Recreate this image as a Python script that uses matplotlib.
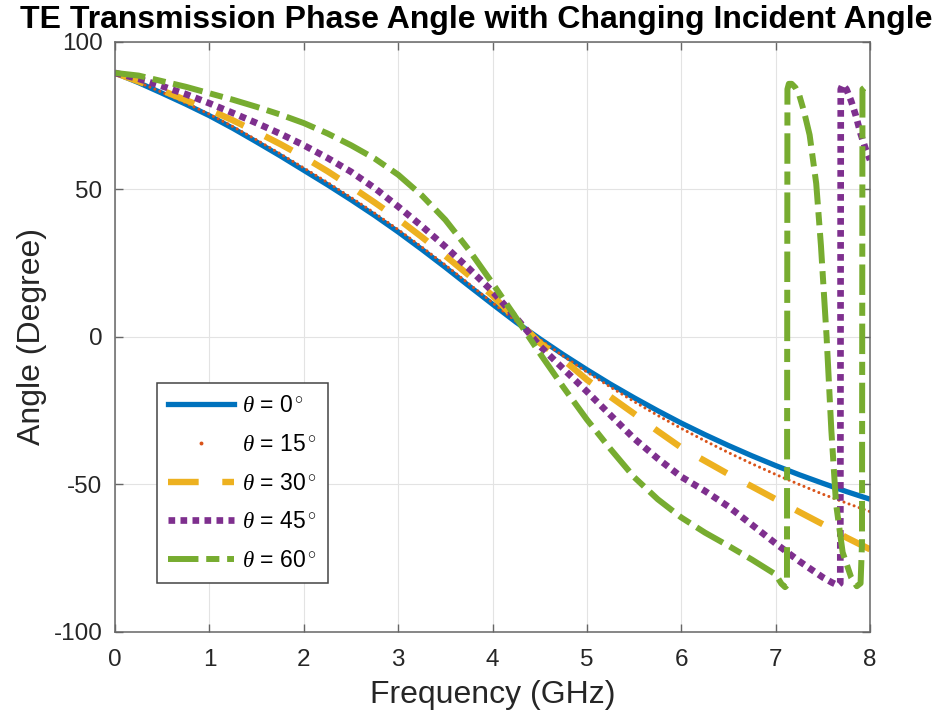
"""TE transmission phase angle vs frequency for several incident angles."""
import matplotlib
matplotlib.use('Agg')
import matplotlib.pyplot as plt
from matplotlib.lines import Line2D

plt.rcParams['font.family'] = ['Liberation Sans', 'DejaVu Sans']
plt.rcParams['mathtext.fontset'] = 'custom'
plt.rcParams['mathtext.it'] = 'Liberation Serif:italic'
plt.rcParams['mathtext.rm'] = 'Liberation Sans'
plt.rcParams['axes.unicode_minus'] = False

# frequency grid (GHz) shared by the smooth parts
freq = [0, 0.25, 0.5, 0.75, 1, 1.25, 1.5, 1.75, 2, 2.25, 2.5, 2.75, 3, 3.25,
        3.5, 3.75, 4, 4.25, 4.5, 4.75, 5, 5.25, 5.5, 5.75, 6, 6.25, 6.5,
        6.75, 7, 7.25, 7.5, 7.75, 8]

phase_0 = [89.5, 86.2, 82.6, 78.9, 75.0, 70.7, 66.1, 61.4, 56.5, 51.6, 46.5,
           41.2, 35.6, 29.7, 23.6, 17.3, 11.1, 5.0, -0.6, -6.0, -11.1, -16.0,
           -20.6, -25.0, -29.2, -33.1, -36.8, -40.3, -43.6, -46.7, -49.6,
           -52.4, -55.0]

phase_15 = [89.5, 86.3, 82.9, 79.3, 75.5, 71.3, 66.8, 62.1, 57.3, 52.4, 47.3,
            42.0, 36.4, 30.5, 24.4, 18.0, 11.6, 5.3, -0.8, -6.5, -11.9, -17.0,
            -21.9, -26.6, -31.0, -35.2, -39.2, -43.0, -46.6, -50.0, -53.3,
            -56.3, -59.2]

phase_30 = [89.5, 86.6, 83.5, 80.3, 77.0, 73.4, 69.5, 65.4, 61.0, 56.2, 51.0,
            45.6, 40.0, 33.9, 27.5, 20.9, 14.0, 6.0, -2.0, -7.7, -14.5, -20.3,
            -26.0, -31.9, -37.5, -42.0, -46.5, -50.7, -55.0, -59.3, -63.5,
            -68.0, -72.0]

# theta = 45 wraps from -90 to +90 near 7.7 GHz
freq_45 = [0, 0.25, 0.5, 0.75, 1, 1.25, 1.5, 1.75, 2, 2.25, 2.5, 2.75, 3,
           3.25, 3.5, 3.75, 4, 4.25, 4.5, 4.75, 5, 5.25, 5.5, 5.75, 6, 6.25,
           6.5, 6.75, 7, 7.25, 7.5, 7.6, 7.66, 7.685, 7.69, 7.71, 7.75, 7.8,
           7.85, 7.9, 7.95, 8]
phase_45 = [89.5, 87.5, 85.0, 82.3, 79.2, 75.9, 72.5, 68.9, 65.0, 60.7, 56.0,
            50.5, 44.2, 37.6, 30.6, 23.2, 15.4, 6.5, -3.0, -10.8, -18.5, -26.5,
            -34.4, -41.2, -47.4, -52.2, -57.5, -63.7, -70.0, -76.0, -81.5,
            -83.3, -84.2, -83.5, 84.0, 85.5, 84.0, 80.0, 75.0, 69.0, 64.0,
            60.0]

# theta = 60 wraps twice: near 7.12 GHz and 7.9 GHz
freq_60 = [0, 0.25, 0.5, 0.75, 1, 1.25, 1.5, 1.75, 2, 2.25, 2.5, 2.75, 3,
           3.25, 3.5, 3.75, 4, 4.25, 4.5, 4.75, 5, 5.25, 5.5, 5.75, 6, 6.25,
           6.5, 6.75, 7, 7.06, 7.1, 7.12, 7.125, 7.14, 7.17, 7.21, 7.25, 7.3,
           7.36, 7.43, 7.48, 7.54, 7.59, 7.64, 7.71, 7.8, 7.86, 7.9, 7.915,
           7.92, 7.96, 8]
phase_60 = [89.5, 88.6, 86.7, 84.8, 82.6, 80.4, 78.0, 75.4, 72.5, 69.0, 65.0,
            60.5, 55.0, 48.0, 39.7, 29.5, 18.2, 6.5, -5.5, -17.0, -28.0, -38.0,
            -47.5, -55.0, -61.2, -66.3, -70.8, -75.5, -80.5, -83.6, -84.8,
            -84.2, 84.0, 85.8, 85.8, 84.5, 82.0, 76.5, 68.5, 52.0, 31.0, 0.0,
            -31.5, -56.5, -73.0, -81.5, -84.5, -83.5, -70.0, 84.0, 85.0, 84.5]

labels = [r'$\theta$ = 0$^\circ$', r'$\theta$ = 15$^\circ$',
          r'$\theta$ = 30$^\circ$', r'$\theta$ = 45$^\circ$',
          r'$\theta$ = 60$^\circ$']

c_blue = '#0072BD'
c_red = '#D95319'
c_yellow = '#EDB120'
c_purple = '#7E2F8E'
c_green = '#77AC30'
axis_gray = '#666666'
text_gray = '#262626'

fig = plt.figure(figsize=(9.36, 7.22), dpi=100)
ax = fig.add_axes([0.1229, 0.1247, 0.8066, 0.8172])

ax.plot(freq, phase_0, color=c_blue, linewidth=3.8, solid_capstyle='butt')
ax.plot(freq, phase_15, color=c_red, linewidth=2.2, dashes=(0.01, 1.75),
        dash_capstyle='round')
ax.plot(freq, phase_30, color=c_yellow, linewidth=4.6, dashes=(4.8, 3.7))
ax.plot(freq_45, phase_45, color=c_purple, linewidth=4.8, dashes=(1.0, 0.8))
ax.plot(freq_60, phase_60, color=c_green, linewidth=4.3,
        dashes=(5.1, 1.3, 2.2, 1.3))

ax.set_xlim(0, 8)
ax.set_ylim(-100, 100)
ax.set_xticks(range(0, 9))
ax.set_yticks([-100, -50, 0, 50, 100])
ax.grid(True, color='#e3e3e3', linewidth=0.8)
ax.set_axisbelow(True)

for sp in ax.spines.values():
    sp.set_color(axis_gray)
    sp.set_linewidth(1.1)
ax.tick_params(direction='in', length=6, width=1.0, color=axis_gray,
               top=True, right=True, labelsize=17.5, labelcolor=text_gray)
ax.tick_params(axis='x', pad=12)
ax.tick_params(axis='y', pad=9)

ax.set_xlabel('Frequency (GHz)', fontsize=23, color=text_gray, labelpad=7)
ax.set_ylabel('Angle (Degree)', fontsize=23, color=text_gray, labelpad=5)
ax.set_title('TE Transmission Phase Angle with Changing Incident Angle',
             fontsize=23, fontweight='bold', color='black', pad=10, x=0.478)

# legend handles: the 15 degree series is drawn as a single dot in the key
handles = [
    Line2D([], [], color=c_blue, linewidth=3.8),
    Line2D([], [], color=c_red, linestyle='none', marker='o', markersize=2.8,
           markeredgewidth=0),
    Line2D([], [], color=c_yellow, linewidth=4.6, dashes=(4.8, 3.7)),
    Line2D([], [], color=c_purple, linewidth=4.8, dashes=(1.0, 0.8)),
    Line2D([], [], color=c_green, linewidth=4.3, dashes=(5.1, 1.3, 2.2, 1.3)),
]
leg = ax.legend(handles, labels, loc='upper left',
                bbox_to_anchor=(0.0556, 0.422), borderaxespad=0,
                fontsize=16.5, handlelength=2.85, handletextpad=0.35,
                labelspacing=0.68, borderpad=0.5, fancybox=False,
                framealpha=1, edgecolor='#444444')
leg.get_frame().set_linewidth(1.1)

plt.savefig('out.png', dpi=100)
plt.close()
